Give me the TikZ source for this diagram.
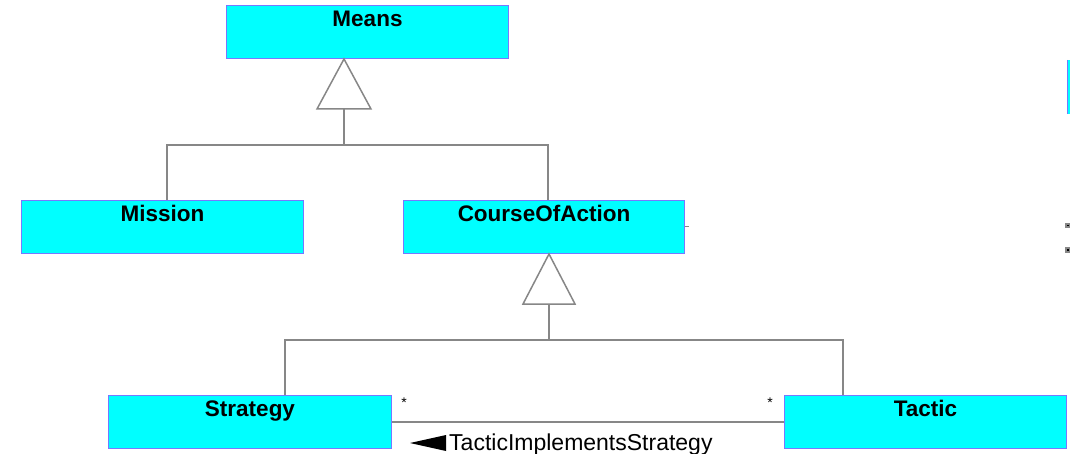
\documentclass[tikz,border=0pt]{standalone}
\usepackage{fontspec}
\setmainfont{Liberation Sans}
\usetikzlibrary{calc}
\definecolor{boxfill}{RGB}{0,255,255}
\definecolor{boxline}{RGB}{120,120,255}
\definecolor{conn}{RGB}{135,135,135}
\begin{document}
\begin{tikzpicture}[x=1pt,y=-1pt,
  cls/.style={draw=boxline,fill=boxfill,line width=1pt,rectangle,anchor=north west,
    minimum width=282pt,minimum height=53pt,inner xsep=0pt,inner ysep=3pt,
    text height=18pt,text depth=29pt,font=\fontsize{22.5}{27}\selectfont\bfseries},
  conn/.style={draw=conn,line width=1.5pt},
  gen/.style={draw=conn,line width=1.5pt,fill=white,line join=miter},
  mult/.style={font=\fontsize{14}{16}\selectfont,inner sep=0pt}]
\useasboundingbox (0,0) rectangle (1070,454);
% classes
\node[cls] (Means) at (226,5) {Means};
\node[cls] (Mission) at (21,200) {Mission};
\node[cls,minimum width=281pt] (COA) at (403,200) {CourseOfAction};
\node[cls,minimum width=283pt] (Strategy) at (108,395) {Strategy};
\node[cls] (Tactic) at (784,395) {Tactic};
% edge fragments
\fill[boxfill] (1067,60) rectangle (1070,114);
\draw[boxline,line width=1pt] (1067,60) -- (1067,114);
\draw[conn,line width=1pt] (COA.east) -- ++(4,0);
\fill[conn] (1066,224) rectangle (1070,227);
\fill[conn] (1066,248) rectangle (1070,252);
% generalization Means
\coordinate (g1) at ($(Means.south west)+(118,0)$);
\draw[gen] (g1) -- ++(-27,50) -- ++(54,0) -- cycle;
\coordinate (m1) at ($(Mission.north west)+(146,0)$);
\coordinate (c1) at ($(COA.north west)+(145,0)$);
\draw[conn] ($(g1)+(0,50)$) -- ($(g1)+(0,86)$);
\draw[conn] (m1) |- ($(g1)+(0,86)$) -| (c1);
% generalization CourseOfAction
\coordinate (g2) at ($(COA.south west)+(146,0)$);
\draw[gen] (g2) -- ++(-26,50) -- ++(52,0) -- cycle;
\coordinate (s1) at ($(Strategy.north west)+(177,0)$);
\coordinate (t1) at ($(Tactic.north west)+(59,0)$);
\draw[conn] ($(g2)+(0,50)$) -- ($(g2)+(0,86)$);
\draw[conn] (s1) |- ($(g2)+(0,86)$) -| (t1);
% association
\draw[conn] (Strategy.east) -- (Tactic.west);
\node[mult] (ms) at (404,403) {*};
\node[mult] (mt) at (770,403) {*};
\node[font=\fontsize{23}{27}\selectfont,inner sep=0pt,anchor=base west] (lbl) at (449,450) {TacticImplementsStrategy};
\fill (lbl.base west) ++(-3,-15) -- ++(0,16) -- ++(-36,-8) -- cycle;
\end{tikzpicture}
\end{document}
